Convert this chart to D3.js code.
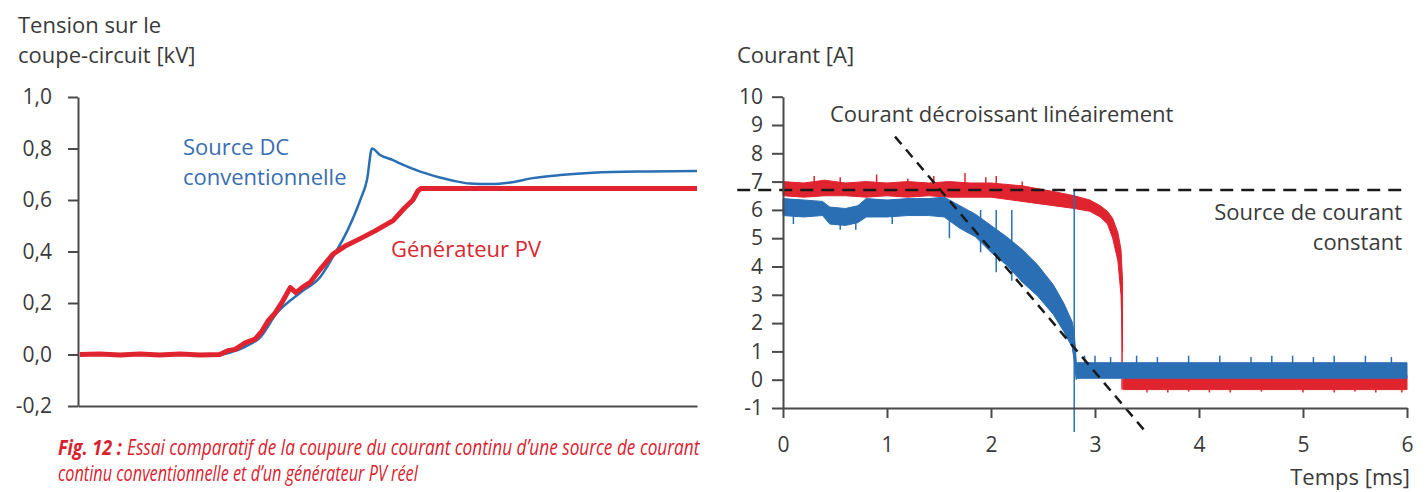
<!DOCTYPE html>
<html lang="fr">
<head>
<meta charset="UTF-8">
<title>Fig. 12 - coupure du courant continu</title>
<script src="https://d3js.org/d3.v7.min.js"></script>
<style>
  body { margin: 0; background: #fff; }
  svg { display: block; }
  text { font-family: "Open Sans", "Noto Sans", sans-serif; fill: #3a3a3a; }
  .axis path, .axis line { stroke: #4a4a4a; stroke-width: 2; }
  .axis text { font-size: 21px; fill: #3a3a3a; font-family: "Open Sans", sans-serif; }
</style>
</head>
<body>
<div id="chart"></div>
<script>
// ---- left chart: tension (kV), time in arbitrary units 0..100
const leftTicks = [-0.2, 0, 0.2, 0.4, 0.6, 0.8, 1.0];
const pvT = [0.3, 3.5, 6.8, 10, 13.2, 16.5, 19.7, 22.9, 24.2, 25.4, 27.0, 28.6, 29.7, 30.7, 31.8, 32.9,
             34.3, 35.2, 36.2, 37.5, 39.1, 41.2, 43.1, 45.6, 48.0, 50.9, 52.8, 54.1, 54.9, 55.4, 70, 85, 100];
const pvV = [0, 0.002, -0.002, 0.002, -0.002, 0.002, -0.002, 0, 0.015, 0.02, 0.045, 0.06, 0.09, 0.13, 0.16, 0.2,
             0.26, 0.24, 0.26, 0.28, 0.33, 0.39, 0.42, 0.45, 0.48, 0.52, 0.57, 0.6, 0.635, 0.645, 0.645, 0.645, 0.645];
const dcT = [0.3, 22.9, 24.9, 27.0, 29.4, 32.1, 35.9, 39.1, 41.2, 43.5, 45.6, 46.7, 47.5, 48.8, 50.9, 52.0,
             55.3, 60.6, 63.3, 66.6, 69.8, 73.5, 77.9, 83.2, 92.4, 100];
const dcV = [0, 0, 0.01, 0.03, 0.066, 0.16, 0.24, 0.30, 0.38, 0.48, 0.6, 0.68, 0.80, 0.775, 0.755, 0.742,
             0.71, 0.675, 0.664, 0.662, 0.668, 0.685, 0.697, 0.706, 0.711, 0.713];

// ---- right chart: courant (A) vs temps (ms)
const xTicksR = [0, 1, 2, 3, 4, 5, 6];
const yTicksR = [-1, 0, 1, 2, 3, 4, 5, 6, 7, 8, 9, 10];
const constLevel = 6.7;
const constRange = [-0.44, 5.98];
const linStart = [1.077, 8.59];
const linEnd = [3.51, -1.94];

const redT  = [0, 0.2, 0.4, 0.6, 0.8, 1.0, 1.2, 1.4, 1.6, 1.8, 2.0, 2.3, 2.6, 2.8, 2.95, 3.05, 3.12, 3.17, 3.22, 3.25, 3.265];
const redHi = [7.0, 6.95, 7.05, 6.95, 7.0, 6.95, 7.0, 6.95, 7.0, 6.95, 6.95, 6.85, 6.65, 6.5, 6.35, 6.15, 5.95, 5.7, 5.2, 4.6, 3.5];
const redLo = [6.5, 6.45, 6.5, 6.5, 6.45, 6.5, 6.45, 6.5, 6.45, 6.45, 6.45, 6.3, 6.15, 6.05, 5.95, 5.75, 5.5, 5.0, 4.2, 3.0, 1.0];
const redAfterT = [3.27, 6.0];
const redAfterHi = [0.15, 0.15];
const redAfterLo = [-0.35, -0.35];
const redDrop = [3.26, 3.5, -0.35];
const redSpikeT = [0.3, 0.55, 0.9, 1.2, 1.45, 1.75, 1.95, 2.05, 2.3];
const redSpikeV = [7.2, 7.15, 7.25, 7.1, 7.2, 7.3, 7.15, 7.2, 7.0];
const redLowSpikeT = [3.5, 3.7, 3.9, 4.1, 4.3, 4.6, 5.0, 5.3, 5.5, 5.7, 5.95];
const redLowSpikeV = [-0.45, -0.45, -0.42, -0.45, -0.45, -0.42, -0.45, -0.45, -0.42, -0.45, -0.45];

const blueT  = [0, 0.2, 0.38, 0.45, 0.6, 0.72, 0.8, 1.0, 1.2, 1.4, 1.55, 1.7, 1.85, 2.0, 2.15, 2.3, 2.45, 2.6, 2.7, 2.78, 2.8, 2.82];
const blueHi = [6.4, 6.35, 6.3, 6.1, 6.05, 6.15, 6.4, 6.35, 6.4, 6.4, 6.45, 6.15, 5.85, 5.45, 5.05, 4.6, 4.05, 3.35, 2.7, 2.05, 1.7, 0.65];
const blueLo = [5.8, 5.75, 5.8, 5.5, 5.45, 5.55, 5.75, 5.75, 5.8, 5.8, 5.75, 5.35, 5.05, 4.5, 4.05, 3.45, 2.95, 2.3, 1.7, 1.15, 0.7, 0.0];
const blueAfterT = [2.82, 6.0];
const blueAfterHi = [0.6, 0.6];
const blueAfterLo = [0.05, 0.05];
const blueDrop = [2.80, 6.7, -1.85];
const blueSpikeT = [0.1, 0.55, 0.7, 1.05, 1.6, 1.9, 2.05, 2.2];
const blueSpikeV = [5.5, 5.3, 5.3, 5.5, 5.0, 4.5, 3.8, 3.5];
const blueHighSpikeT = [2.9, 3.0, 3.15, 3.4, 3.6, 3.9, 4.2, 4.5, 4.7, 4.9, 5.1, 5.3, 5.6, 5.85];
const blueHighSpikeV = [0.85, 0.85, 0.8, 0.85, 0.8, 0.85, 0.85, 0.8, 0.85, 0.85, 0.8, 0.85, 0.85, 0.8];

const RED = "#e0242f", BLUE = "#2a6fb4";
const comma = d => d3.format(".1f")(d).replace(".", ",").replace("\u2212", "-");

const svg = d3.select("#chart").append("svg").attr("width", 1428).attr("height", 492);

// ================= left chart =================
const xL = d3.scaleLinear().domain([0, 100]).range([78, 697]);
const yL = d3.scaleLinear().domain([-0.2, 1.0]).range([406, 97]);

svg.append("g").attr("class", "axis").attr("transform", "translate(78,0)")
  .call(d3.axisLeft(yL).tickValues(leftTicks).tickFormat(comma).tickSize(10).tickSizeOuter(0).tickPadding(16));
svg.append("g").attr("class", "axis").attr("transform", "translate(0,406)")
  .call(d3.axisBottom(xL).tickValues([]).tickSizeOuter(0));

const lineL = d3.line().x(d => xL(d[0])).y(d => yL(d[1]));
svg.append("path").datum(d3.zip(dcT, dcV)).attr("d", lineL.curve(d3.curveMonotoneX))
  .attr("fill", "none").attr("stroke", BLUE).attr("stroke-width", 2.5).attr("stroke-linejoin", "round");
svg.append("path").datum(d3.zip(pvT, pvV)).attr("d", lineL.curve(d3.curveLinear))
  .attr("fill", "none").attr("stroke", RED).attr("stroke-width", 5).attr("stroke-linejoin", "round");

const big = "22px";
svg.append("text").attr("x", 18).attr("y", 33).style("font-size", big).text("Tension sur le");
svg.append("text").attr("x", 18).attr("y", 63).style("font-size", big).text("coupe-circuit [kV]");
svg.append("text").attr("x", 183).attr("y", 155).style("font-size", big).style("fill", "#3a6eb0").text("Source DC");
svg.append("text").attr("x", 183).attr("y", 185).style("font-size", big).style("fill", "#3a6eb0").text("conventionnelle");
svg.append("text").attr("x", 391).attr("y", 257).style("font-size", big).style("fill", "#d8272f").text("Générateur PV");

// caption: condensed italic, squeezed horizontally to the reference widths
const cap = svg.append("g").style("font-family", "'Liberation Sans Narrow', 'DejaVu Sans Condensed', 'Open Sans', sans-serif")
  .style("font-style", "italic").style("font-size", "21px");
function squeezed(x, y, w, str, bold) {
  const t = cap.append("text").style("fill", "#d8232f").style("font-weight", bold ? "bold" : "normal").text(str);
  const k = w / t.node().getComputedTextLength();
  t.attr("transform", `translate(${x},${y}) scale(${k},1)`);
}
squeezed(58, 455, 64, "Fig. 12 :", true);
squeezed(127, 455, 573, "Essai comparatif de la coupure du courant continu d’une source de courant", false);
squeezed(58, 481, 360, "continu conventionnelle et d’un générateur PV réel", false);

// ================= right chart =================
const xR = d3.scaleLinear().domain([0, 6]).range([783, 1407]);
const yR = d3.scaleLinear().domain([-1, 10]).range([408, 96.7]);

const band = d3.area().x(d => xR(d[0])).y0(d => yR(d[1])).y1(d => yR(d[2]));

function drawSeries(col, T, lo, hi, aT, aLo, aHi, spT, spV, spBase, sp2T, sp2V, sp2Base, drop) {
  const g = svg.append("g");
  g.append("path").datum(d3.zip(T, lo, hi)).attr("d", band).attr("fill", col).attr("stroke", col).attr("stroke-width", 1);
  g.append("path").datum(d3.zip(aT, aLo, aHi)).attr("d", band).attr("fill", col).attr("stroke", col).attr("stroke-width", 1);
  g.selectAll(".sp1").data(d3.zip(spT, spV)).join("line")
    .attr("x1", d => xR(d[0])).attr("x2", d => xR(d[0]))
    .attr("y1", d => yR(spBase)).attr("y2", d => yR(d[1]))
    .attr("stroke", col).attr("stroke-width", 1.5);
  g.selectAll(".sp2").data(d3.zip(sp2T, sp2V)).join("line")
    .attr("x1", d => xR(d[0])).attr("x2", d => xR(d[0]))
    .attr("y1", d => yR(sp2Base)).attr("y2", d => yR(d[1]))
    .attr("stroke", col).attr("stroke-width", 1.5);
  g.append("line").attr("x1", xR(drop[0])).attr("x2", xR(drop[0]))
    .attr("y1", yR(drop[1])).attr("y2", yR(drop[2])).attr("stroke", col).attr("stroke-width", 1.5);
}

drawSeries(RED, redT, redLo, redHi, redAfterT, redAfterLo, redAfterHi,
  redSpikeT, redSpikeV, 6.8, redLowSpikeT, redLowSpikeV, -0.2, redDrop);
drawSeries(BLUE, blueT, blueLo, blueHi, blueAfterT, blueAfterLo, blueAfterHi,
  blueSpikeT, blueSpikeV, 6.0, blueHighSpikeT, blueHighSpikeV, 0.4, blueDrop);

// reference dashed lines
svg.append("line").attr("x1", xR(constRange[0])).attr("x2", xR(constRange[1]))
  .attr("y1", yR(constLevel)).attr("y2", yR(constLevel))
  .attr("stroke", "#1a1a1a").attr("stroke-width", 2.5).attr("stroke-dasharray", "13,8");
svg.append("line").attr("x1", xR(linStart[0])).attr("y1", yR(linStart[1]))
  .attr("x2", xR(linEnd[0])).attr("y2", yR(linEnd[1]))
  .attr("stroke", "#1a1a1a").attr("stroke-width", 2.5).attr("stroke-dasharray", "10,7");

svg.append("g").attr("class", "axis").attr("transform", "translate(783,0)")
  .call(d3.axisLeft(yR).tickValues(yTicksR).tickFormat(d => String(d)).tickSize(11).tickSizeOuter(0).tickPadding(9));
svg.append("g").attr("class", "axis").attr("transform", "translate(0,408)")
  .call(d3.axisBottom(xR).tickValues(xTicksR).tickFormat(d => String(d)).tickSize(10).tickSizeOuter(0).tickPadding(19));

svg.append("text").attr("x", 737).attr("y", 63).style("font-size", big).text("Courant [A]");
svg.append("text").attr("x", 830).attr("y", 122).style("font-size", big).text("Courant décroissant linéairement");
svg.append("text").attr("x", 1402).attr("y", 220).attr("text-anchor", "end").style("font-size", big).text("Source de courant");
svg.append("text").attr("x", 1402).attr("y", 250).attr("text-anchor", "end").style("font-size", big).text("constant");
svg.append("text").attr("x", 1410).attr("y", 485).attr("text-anchor", "end").style("font-size", big).text("Temps [ms]");
</script>
</body>
</html>
